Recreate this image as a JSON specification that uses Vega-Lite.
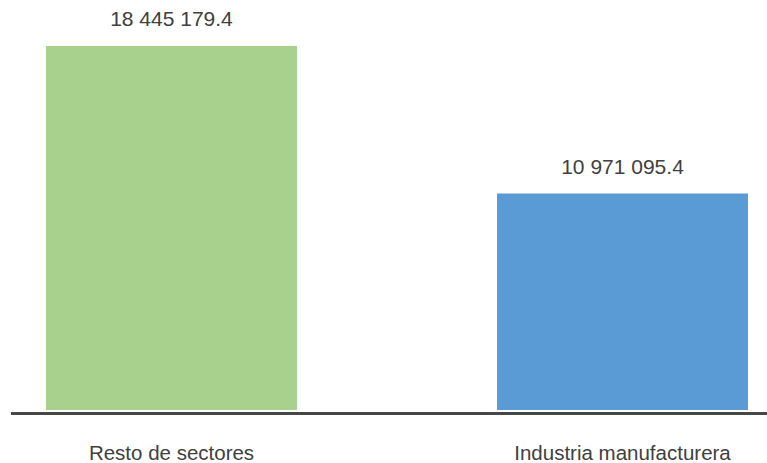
{
  "$schema": "https://vega.github.io/schema/vega-lite/v6.json",
  "width": 756,
  "height": 410,
  "autosize": {"type": "none"},
  "padding": {"left": 11, "top": 0, "right": 0, "bottom": 53},
  "background": "white",
  "config": {
    "view": {"stroke": null},
    "font": "Liberation Sans",
    "locale": {"number": {"decimal": ".", "thousands": " ", "grouping": [3], "currency": ["", ""]}}
  },
  "data": {
    "values": [
      {"sector": "Resto de sectores", "valor": 18445179.4},
      {"sector": "Industria manufacturera", "valor": 10971095.4}
    ]
  },
  "encoding": {
    "x": {
      "field": "sector",
      "type": "nominal",
      "sort": null,
      "scale": {"range": [35, 737], "paddingInner": 0.4435, "paddingOuter": 0},
      "axis": {
        "title": null,
        "labelAngle": 0,
        "ticks": false,
        "domain": false,
        "offset": 3.5,
        "labelBaseline": "alphabetic",
        "labelPadding": 46,
        "labelFontSize": 20.5,
        "labelColor": "#404040",
        "labelFont": "Liberation Sans",
        "labelLimit": 400
      }
    },
    "y": {
      "field": "valor",
      "type": "quantitative",
      "scale": {"domain": [0, 20775449], "nice": false, "zero": true},
      "axis": null
    }
  },
  "layer": [
    {
      "mark": {"type": "bar"},
      "encoding": {
        "color": {
          "field": "sector",
          "type": "nominal",
          "scale": {"domain": ["Resto de sectores", "Industria manufacturera"], "range": ["#A9D18E", "#5B9BD5"]},
          "legend": null
        }
      }
    },
    {
      "mark": {"type": "text", "baseline": "alphabetic", "dy": -19.5, "fontSize": 21, "color": "#404040", "font": "Liberation Sans"},
      "encoding": {
        "text": {"field": "valor", "type": "quantitative", "format": ",.1f"}
      }
    },
    {
      "mark": {"type": "rule", "color": "#404040", "strokeWidth": 2.5, "yOffset": 3.5},
      "encoding": {
        "x": null,
        "y": {"datum": 0, "type": "quantitative"}
      }
    }
  ]
}
